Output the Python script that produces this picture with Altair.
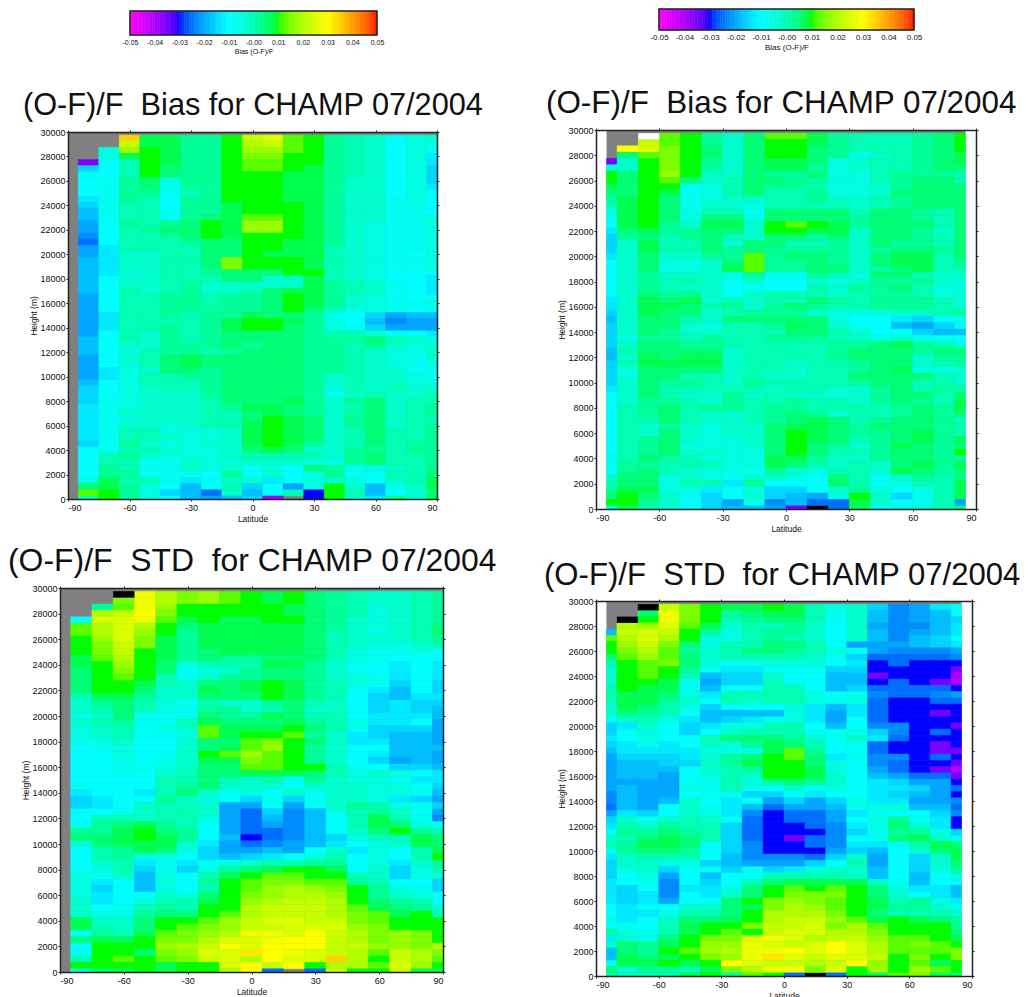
import altair as alt
import pandas as pd

# Colour codes (value of (O-F)/F)
CODES = {
    "a": -0.05, "b": -0.04, "c": -0.035, "d": -0.03, "e": -0.025, "f": -0.0225,
    "g": -0.02, "h": -0.0175, "i": -0.015, "j": -0.0125, "k": -0.01, "l": -0.0075,
    "m": -0.005, "n": -0.0025, "o": 0.0, "p": 0.0025, "q": 0.005, "r": 0.0075,
    "s": 0.01, "t": 0.0125, "u": 0.015, "v": 0.0175, "w": 0.02, "x": 0.0225,
    "y": 0.025, "z": 0.0275, "Y": 0.03, "Z": 0.0325, "O": 0.035, "R": 0.05,
}
# '.' = no data (grey), K = black, W = white
EDGES_A = [-85, -75, -65, -55, -45, -35, -25, -15, -5, 5, 15, 25, 35, 45, 55, 65, 75, 85, 90]
EDGES_B = [-85, -80, -70, -60, -50, -40, -30, -20, -10, 0, 10, 20, 30, 40, 50, 60, 70, 80, 85]

# rows run from 29500 m down to 0 m, one every 500 m
P1 = [
"..Orrp psxyts ponlmn", "..xrrp pswxts ponkmm", ".mvsrp psvvts ponkml", ".mrsrp psuuss ponkmj",
"ckosrp psttss ponkmj", "ikosqp psttsr ponkmi", "lkosqp psssrr ponkmi", "klpqmp psssrr pnnkmi",
"klpqlp psssrr pnnkmj", "klpplo psssrr pnnkmk",
"jlpokp psssrr pnnlmk", "ilookp prsssr pnnllk", "hloolp prsssr pnnllk", "hloolp qrttsr pnnllm",
"gkpopq srvvsr pnmllm", "gkopqq srvvsr pnmllm", "fkoopq srsssr pnmllm", "ekooop qqssrr pnmllm",
"gjoooo qqssrr onmllm", "gjnnoo qqsrrr onmlkm",
"hjnnoo qusssr onmllm", "hjnnoo qusssr onmllm", "hjmnoo pqqqss onmkkl", "hknnoo oqqnnr onmlkj",
"hknnop nnnnnr ponlkj", "hkonop nnoqrr ponlkj", "gkoopp oppqsr pnmlkl", "gkoopp oppqsr pnmllm",
"gkoopp pppqsq ommlkl", "gjoopo pprqqp lkighh",
"gjoooo prssrp mkhfgg", "gjoopo prssqp mliggg", "gkonpo pqqqqp oonlkj", "hkonpo pqqqqp ppqonm",
"hknnpp pqpqqp popnmn", "hkmopp opqqqp ponmmn", "gknoqr qqqqqp ponmln", "gkmoqr qqqqqp ponmlm",
"gjmnqq pqqqqp ponnll", "gjmoop pqqqqp nonnml",
"hkmooo pqqqqp nonnmm", "ikmnoo pqqqqp mononn", "ilmnnn pqqqqp mnonno", "ilmnnn oqqqrp npqnoo",
"jlmnnn oprrqp noqnop", "jlnnnn ooqrqp npqnop", "jlmnnn ooqsrq npqnoo", "jlnnmn oorsrq npqnop",
"jloomm mnrsrq noqoop", "jloonm mnrsrq noqoop",
"ilpnmm nnrsrp noqopp", "kloonm mnqrqn nppopp", "kopnmm mnoooo npqoop", "koolln mmnnnm mpqoop",
"kpolln mnlmkq plmnop", "kpplll kpknkm pllooq", "mroolj lnnjkm nmknor", "qrpmkh koikgm snhmnr",
"tspmih enhkod sohknq", "ospmkh ghib.d snjqnr",
]
P2 = [
"..Wtsp nqttrp ooopqs", "..xtsp nqssrp ooopqs", ".Yyusq nqssqp ooopqs", ".qtusq nqssqp mnopqr",
"cnsusp nqrrqm noopqr", "mnsusp nqrrpm noopqq", "sqsvsn nqppqm mopppo", "sqstqn oqqppm mopqqo",
"rqsslm oqppom mnpqqq", "qqsrlm oqoopm mnqqqq",
"prsqlm nnoopn nopqqq", "orsqln nmoooo nopqqq", "mrsqmo olqqqq oqqpoq", "lrsqmq qmqqqq pqqpoq",
"krspnr rnstsr pqqqoq", "jqrppq qnssrr nqqpnq", "ipqopq onqqpq nqqpoq", "inrooq nqqoop nqppoq",
"inrooq pqpppp npqqpq", "jnqnnp ptpqqp nqrroq",
"knqmmn qtppqp nqrrop", "knqmmn rtppqq npqroo", "knpnnn mpllpo mqqonn", "knpoon lnkknm npppnm",
"knponn klkkon ppqomm", "knqppn lnooon oppomn", "jnrqrn onooqp opppom", "jnrrqo pnpqpo opppon",
"inrqqn opppnm mmnnop", "hnqqon qqqqqm kkjikl",
"inqqnm ooprqn lkhgil", "inqpnn oooqqo nkkihh", "imppop oopppo nmnllk", "inqqpp ooooop pqrpom",
"hoqqqq noooop qqqpqq", "hnrqrr noooop qqqnpp", "iorrrr noonoo pqqnop", "imqqqq noonoo pqrmmn",
"imqqoo nonnoo qqqqon", "inqppo npoooo pqqoon",
"jnqooo oonoon npqopp", "knqonn pnonnm npqqoq", "knppon poopoo npqpor", "kopqop poppoo oopqpr",
"kopqon nopqpn oopqpq", "kooqon nopqrq opqqpo", "konpnm nnqrrq pqqqpo", "konqnm nnqsrq ppqrpo",
"kopqnm mnqsrq opqrpr", "kopqmm mnqsqp nprqpq",
"kopqnn mmqsqo opqqps", "loqpom mmrrpn npqqpp", "lppooo mmrqon onqrpr", "lpqonm mlpnmo onrqpq",
"nqqmnm lnnmkq olnpoq", "oqqmoo jpkkkq olmoor", "prrmmj lmiikn pmkmor", "qsqnli knihgm snilor",
"sspnki glfhee rnklog", "lromki hhgcKe rkmnoq",
]
P3 = [
"..Kzwu vtsrsq ponnop", "..uzwu vtsrsq ponnop", ".ptzvs ssssrq pomnop", ".wxYus ssssrq pomnop",
"kyyztr srrssq pnmnop", "twywsq rrrrrq pnmnoq", "twyvsp rrrrrq onmnoq", "svyurp rrrrrq onnnop",
"suxurp rrrrrq onmmno", "suxsrp qrrrrq omllmk",
"rtwsrp qppqqq omlkkk", "rsvsqm ooorrp nlkjkj", "qsusql mnpqqp nlkjkj", "qstsol nppqqp nmljkj",
"qssron qqrsrp omliki", "qssqnn rqrsrp oljhki", "orrpnn qqqsrp okihjj", "npqoml onnpqo nkijii",
"noqoml ppnoqn nkijih", "mnqlll qpprqo okjjjh",
"nopllo rqqqrp omjjkg", "mnolmn trrrsq oliiig", "mnollm trsstp njihhg", "lmnkkn qqtusq njjhhg",
"klmkkn qrtvsp nkkhhh", "kkmkln stvtsp nkjhhg", "kkmkln rrutsp nkighg", "kkllmn qqttss olkiih",
"kklkno qqrrrq omnmkj", "kkkkoo qonokp nmmljj",
"lkkkop qnnnln nnmmki", "jkkjoq nlmknl nnmmlh", "ijkkpn mkilil nnmjig", "ijknoo nggkgk npomli",
"kklnoo ngeifh mopnlg", "koonoo mgehfh korolf", "lpqrpo kgegfh korqmk", "pprsqp kgeefh knqspo",
"qqrsrp khdefh imoorq", "nqrrrn jgefgh jkmnrq",
"koprqm igghgk njmkor", "kopmmk ihijkm okmkos", "knojlj lmnoop pkmjnp", "lmoili mpqrss rknimo",
"mlnhmk orstts sonimn", "mjkhmk pstuut tpokki", "mikhmk ostvwv uspmli", "mjkknm qsuvww vspnmk",
"njkmoo rsvwxx wsqpok", "nklopo sswxxx wtrqpn",
"nmmpqq stwxxx wutrso", "rnnqss tvxyyx xutsss", "ronqst uvxxyy yvusss", "lportu vwzzyY xwuvus",
"qrrsuu wyyzYY xwuvus", "ksssvw xYyYYY xxvvuw", "lssquv yyZYzy xwtxwu", "oststu xywYyy Owsxwt",
"ssssrs syYxYs wwtyvs", "mqrsrs swYe.e xssxrr",
]
P4 = [
"..Kxus rrsrom nifgjk", "..qzus pqrrol nhfghl", ".Kszus opqqol nhfghi", ".wvytr noopnk ngffhj",
"hxyxsp moppnk nhfghj", "twywsm moponk nhfhik", "svxuqm ooqqok ggghij", "suwtpn oqqpom kgfffg",
"qtvtqn oooonl ieeeef", "ostuqm klmmmk jdeddd",
"nstspl jjllli iddddc", "nstsoh iinkkh hcdddb", "nssrlg iiolkh hdedcb", "osrrlh lkookh ieeeed",
"orrqmj oooomk lfeefg", "orrpnk onooml meddee", "nrqomi kkkmjh jedddd", "nqpokh hhhmjg jeddcd",
"lnomjh ijlmjg kedddd", "ijnkij mmookh kffddc",
"ikmkik noooll mifded", "jkmkko qqqpnl njeddd", "ijljkn mprqok leddcd", "hjjjjm mmrtpk leddcc",
"giiijn pqstqj lffded", "ghhiin prssqm kfeddc", "ghhhkn opssrm kgedcb", "ghhgkm onssrn khgeec",
"ggggll ompqpn kjiggd", "ghggml olknlm kjjige",
"fhggkl liikjk kjihgd", "fhghnk jkgigi mjjggf", "ehgknl jheggh lmmhhe", "gjiknm jfdeeg jlkkif",
"inlnon kedeeg kmpljd", "jonpoo ieddef jmqnjd", "kppqpo iedddf ilppmi", "noqrqo iedcef klqrnl",
"oprrql ifddef jjlorq", "lpqqpl ifdddg ihknqr",
"jnoook hfffei ngkinr", "innmmi hgggik ogkinq", "imnikl ilijmn nhkimp", "ikmgkh kkoooo nhkhkm",
"jklfki koqrrr rnlhkl", "jikfjj mqstst sqmjjh", "jijfkj nqsuuu sqnkjh", "jijgkk qsuvut sropmj",
"kjkknn qruwvt srppnl", "kjjmoo qswwwu sqooon",
"ljknqq rswxxv trsrqp", "klkors suxxyu wtsssp", "pmlors tsxyyw wusssq", "jnmqsu uyzywx xvttsr",
"nqprsv vzyxyY ywtuts", "hqpstv wzzYyY ywtttu", "hrqrsu vzZyxy yxsusu", "krrsrs Yyxxwx Yvstrs",
"qnppor uwzzuy svsvts", "oooors ptseKe srturq",
]
PANEL_TITLES = ["(O-F)/F\u00a0\u00a0Bias for CHAMP 07/2004", "(O-F)/F\u00a0\u00a0Bias for CHAMP 07/2004",
                "(O-F)/F\u00a0\u00a0STD\u00a0\u00a0for CHAMP 07/2004", "(O-F)/F\u00a0\u00a0STD\u00a0\u00a0for CHAMP 07/2004"]
LAT_TICKS = [-90, -60, -30, 0, 30, 60, 90]
H_TICKS = list(range(0, 30001, 2000))
CB_TICKS = [-0.05, -0.04, -0.03, -0.02, -0.01, 0.0, 0.01, 0.02, 0.03, 0.04, 0.05]
CB_STEPS = [i / 1000 for i in range(-50, 50)]
STOPS = [-0.05, -0.03, -0.01, 0.01, 0.03, 0.05]
STOP_COLORS = ["#ff00ff", "#0000ff", "#00ffff", "#00ff00", "#ffff00", "#ff0000"]

FONT = "Liberation Sans"
INK = "#222222"
PLAIN = "'' + datum.value"
color_scale = alt.Scale(domain=STOPS, range=STOP_COLORS)


def cells(rows, edges):
    out, special = [], []
    assert len(rows) == 60, len(rows)
    for r, row in enumerate(rows):
        row = row.replace(" ", "")
        assert len(row) == 18, row
        center = 29500 - 500 * r
        for c, ch in enumerate(row):
            rec = dict(x0=edges[c], x1=edges[c + 1], y0=max(center - 250, 0), y1=center + 250)
            if ch in CODES:
                rec["v"] = CODES[ch]
                out.append(rec)
            elif ch in "KW":
                rec["f"] = "#000000" if ch == "K" else "#ffffff"
                special.append(rec)
    return pd.DataFrame(out), pd.DataFrame(special)


def panel(rows, edges, title, w, h, bg_left, bg_right, tsize, tdx, tbase, ytp, inset=0):
    df, sp = cells(rows, edges)
    xs = alt.Scale(domain=[-90, 90], range=[inset, w], nice=False, zero=False)
    ys = alt.Scale(domain=[0, 30000], nice=False, zero=False)
    bg = pd.DataFrame({"x0": [bg_left], "x1": [bg_right], "y0": [0], "y1": [30000]})
    base_axis = dict(domainColor=INK, domainWidth=1.5, tickColor=INK, labelColor="#111111", zindex=1,
                     labelFont=FONT, labelFontSize=9, tickSize=2, grid=False, titleFont=FONT,
                     titleFontSize=8.5, titleFontWeight="normal", titleColor="#111111")
    l_main = alt.Chart(bg).mark_rect(color="#808080").encode(
        x=alt.X("x0:Q", scale=xs, title="Latitude",
                axis=alt.Axis(values=LAT_TICKS, orient="bottom", titlePadding=2, labelExpr=PLAIN, **base_axis)),
        x2="x1:Q",
        y=alt.Y("y0:Q", scale=ys, title="Height (m)",
                axis=alt.Axis(values=H_TICKS, orient="left", titlePadding=ytp, labelPadding=1, labelExpr=PLAIN,
                              offset=-inset, **base_axis)),
        y2="y1:Q",
    )
    l_frame = alt.Chart(bg).mark_rect(color="#808080", opacity=0).encode(
        x=alt.X("x0:Q", scale=xs, title=None,
                axis=alt.Axis(values=LAT_TICKS, orient="top", labels=False, **base_axis)),
        x2="x1:Q",
        y=alt.Y("y0:Q", scale=ys, title=None,
                axis=alt.Axis(values=H_TICKS, orient="right", labels=False, **base_axis)),
        y2="y1:Q",
    )
    l_heat = alt.Chart(df).mark_rect(strokeWidth=0.5).encode(
        x=alt.X("x0:Q", scale=xs, axis=None), x2="x1:Q",
        y=alt.Y("y0:Q", scale=ys, axis=None), y2="y1:Q",
        fill=alt.Fill("v:Q", scale=color_scale, legend=None),
        stroke=alt.Stroke("v:Q", scale=color_scale, legend=None),
    )
    l_spec = alt.Chart(sp).mark_rect().encode(
        x=alt.X("x0:Q", scale=xs, axis=None), x2="x1:Q",
        y=alt.Y("y0:Q", scale=ys, axis=None), y2="y1:Q",
        fill=alt.Fill("f:N", scale=None, legend=None),
    )
    l_title = alt.Chart(pd.DataFrame({"t": [title]})).mark_text(
        align="left", baseline="alphabetic", font=FONT, fontSize=tsize, color="#111111"
    ).encode(x=alt.value(tdx), y=alt.value(tbase), text="t:N")
    return alt.layer(l_main, l_frame, l_heat, l_spec, l_title).resolve_axis(
        x="independent", y="independent"
    ).resolve_scale(fill="independent").properties(width=w, height=h)


def colorbar(w, h, r0, r1, lab):
    xs = alt.Scale(domain=[-0.05, 0.05], range=[r0, r1], nice=False, zero=False)
    cb = pd.DataFrame({"x0": CB_STEPS, "x1": [v + 0.001 for v in CB_STEPS], "v": [v + 0.0005 for v in CB_STEPS]})
    bars = alt.Chart(cb).mark_rect(strokeWidth=0.5).encode(
        x=alt.X("x0:Q", scale=xs, title="Bias (O-F)/F",
                axis=alt.Axis(values=CB_TICKS, domain=False, ticks=False, grid=False, labelFont=FONT,
                              labelFontSize=lab, labelColor="#111111", labelPadding=3, titleFont=FONT,
                              titleFontSize=lab, titleFontWeight="normal", titlePadding=2, titleColor="#111111",
                              labelOverlap=False, labelFlush=False,
                              labelExpr="abs(datum.value)<0.001 ? '-0.00' : "
                                        "(datum.value<0 ? '-' : '') + format(abs(datum.value),'.2f')")),
        x2="x1:Q",
        fill=alt.Fill("v:Q", scale=color_scale, legend=None),
        stroke=alt.Stroke("v:Q", scale=color_scale, legend=None),
    )
    box = alt.Chart(pd.DataFrame({"x0": [-0.05], "x1": [0.05]})).mark_rect(
        fillOpacity=0, stroke="#222222", strokeWidth=1.5
    ).encode(x=alt.X("x0:Q", scale=xs, axis=None), x2="x1:Q")
    return alt.layer(bars, box).resolve_axis(x="independent").properties(width=w, height=h)


def spacer(h):
    return alt.Chart(pd.DataFrame({"a": [0]})).mark_point(opacity=0, size=0).encode(
        x=alt.value(0), y=alt.value(0)
    ).properties(width=10, height=h)


left = alt.vconcat(
    spacer(1),
    colorbar(377, 24, 70, 317, 7),
    spacer(36),
    panel(P1, EDGES_A, PANEL_TITLES[0], 377, 367, -90, 90, 30.7, -37, -17, 1, inset=8),
    spacer(22),
    panel(P3, EDGES_A, PANEL_TITLES[2], 383, 384, -90, 90, 31.9, -52, -17, 1),
    spacing=0,
)
right = alt.vconcat(
    colorbar(380, 21, 63, 318, 8),
    spacer(37),
    panel(P2, EDGES_B, PANEL_TITLES[1], 380, 379, -85, 85, 31.4, -50, -17, 1),
    spacer(27),
    panel(P4, EDGES_B, PANEL_TITLES[3], 376, 375, -85, 85, 31.1, -52, -16, 1),
    spacing=0,
)
chart = alt.hconcat(left, right, spacing=46).properties(padding=0).configure_view(strokeWidth=0)
chart.save("out.html", embed_options={"renderer": "svg", "actions": False})
